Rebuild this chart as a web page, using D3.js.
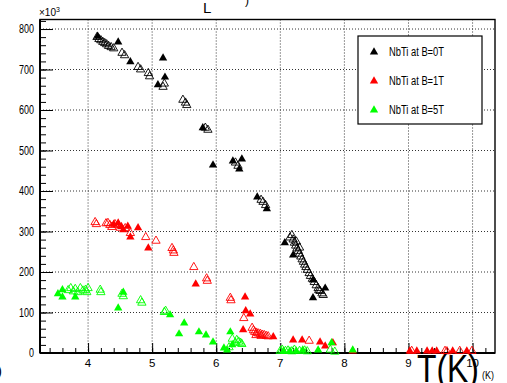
<!DOCTYPE html>
<html>
<head>
<meta charset="utf-8">
<script src="https://cdn.jsdelivr.net/npm/d3@7"></script>
<style>
  body { margin: 0; background: #fff; }
  text { font-family: "Liberation Sans", Arial, sans-serif; }
</style>
</head>
<body>
<div id="chart-container"></div>
<script>
// NbTi at B=0T, filled / open markers  [T (K), value x1e3]
const blackFilled = [[4.15,782],[4.47,768],[4.66,719],[5.17,728],[5.2,681],[5.09,662],[5.79,556],[5.95,464],
  [6.26,474],[6.40,479],[6.36,454],[6.64,385],[6.79,356],[7.07,272],[7.2,242],[7.51,180],[7.51,136],[7.70,160]];
const blackOpen = [[4.14,780],[4.17,775],[4.2,772],[4.23,768],[4.26,765],[4.29,762],[4.32,758],[4.36,755],[4.40,752],
  [4.53,741],[4.57,735],[4.78,706],[4.82,700],[4.94,691],[4.96,683],[5.17,657],[5.19,665],[5.48,625],[5.52,618],
  [5.54,612],[5.87,551],[5.83,556],[6.34,462],[6.30,470],[6.73,373],[6.70,378],[6.77,365],
  [7.15,285],[7.18,291],[7.2,280],[7.22,272],[7.24,265],[7.26,258],[7.28,252],[7.3,245],[7.32,238],[7.34,231],
  [7.36,225],[7.38,218],[7.4,212],[7.42,205],[7.45,197],[7.47,190],[7.5,183],[7.53,175],[7.56,167],[7.59,160],
  [7.62,153],[7.65,147],[7.67,143],[7.6,155],[7.3,260],[7.25,275]];

// NbTi at B=1T
const redFilled = [[4.4,318],[4.47,321],[4.52,312],[4.55,304],[4.62,313],[4.66,286],[4.78,309],[4.94,259],[5.68,170],
  [6.45,138],[6.46,104],[6.53,96],[6.42,57],[6.89,40],[7.2,32],[7.34,32],[7.62,27],[7.70,17],[7.82,25],[8.13,5],
  [9.02,5],[9.13,5],[9.29,5],[9.37,5],[9.44,5],[9.69,5],[9.91,5]];
const redOpen = [[4.11,323],[4.13,318],[4.28,320],[4.31,321],[4.34,316],[4.37,311],[4.42,318],[4.47,316],[4.5,309],
  [4.58,308],[4.66,296],[4.9,286],[5.06,277],[5.31,259],[5.33,253],[5.34,247],[5.65,212],[5.86,178],[5.85,184],
  [6.22,136],[6.23,130],[6.43,86],[6.56,62],[6.58,56],[6.6,52],[6.63,50],[6.66,48],[6.69,47],[6.72,45],[6.75,44],
  [6.78,42],[6.81,41],[6.62,44],[6.7,42],[7.45,30],[9.05,5],[9.57,5],[9.6,4],[9.80,5],[9.99,5]];

// NbTi at B=5T
const greenFilled = [[3.6,156],[3.6,138],[3.53,146],[3.8,138],[4.47,111],[4.55,150],[5.28,94],[5.42,47],[5.5,74],
  [5.73,52],[5.84,44],[5.95,27],[6.12,12],[6.17,7],[6.22,52],[6.25,20],[7.05,5],[7.15,5],[7.25,5],[7.35,7],
  [7.59,7],[7.8,25],[8.13,7]];
const greenOpen = [[3.69,155],[3.73,160],[3.77,152],[3.8,158],[3.84,150],[3.88,160],[3.92,154],[3.96,156],[4.0,160],
  [3.98,150],[4.19,156],[4.2,150],[4.53,146],[4.55,140],[4.84,124],[4.82,130],[5.19,101],[5.21,104],[6.2,14],
  [6.25,35],[6.3,25],[6.32,32],[6.35,28],[6.38,25],[6.40,22],[7.0,5],[7.03,8],[7.08,5],[7.12,6],[7.18,4],
  [7.22,8],[7.3,5],[7.38,6],[7.42,4],[7.78,8],[7.85,3]];

const seriesNames = ["NbTi at B=0T", "NbTi at B=1T", "NbTi at B=5T"];
const seriesColors = ["#000000", "#ff0000", "#00ff00"];
const xTicks = [4, 5, 6, 7, 8, 9, 10];
const yTicks = [0, 100, 200, 300, 400, 500, 600, 700, 800];

const width = 507, height = 383;
const frame = { left: 40, right: 495, top: 19.5, bottom: 353 };

const svg = d3.select("#chart-container").append("svg")
  .attr("width", width)
  .attr("height", height);

const x = d3.scaleLinear().domain([3.25, 10.35]).range([frame.left, frame.right]);
const y = d3.scaleLinear().domain([0, 823.5]).range([frame.bottom, frame.top]);

// grid
const grid = svg.append("g")
  .attr("stroke", "#333")
  .attr("stroke-width", 1)
  .attr("stroke-dasharray", "1,2");
grid.selectAll(".gx").data(xTicks).join("line")
  .attr("x1", d => x(d)).attr("x2", d => x(d))
  .attr("y1", frame.top).attr("y2", frame.bottom);
grid.selectAll(".gy").data(yTicks.slice(1)).join("line")
  .attr("x1", frame.left).attr("x2", frame.right)
  .attr("y1", d => y(d)).attr("y2", d => y(d));

// frame
svg.append("rect")
  .attr("x", frame.left).attr("y", frame.top)
  .attr("width", frame.right - frame.left).attr("height", frame.bottom - frame.top)
  .attr("fill", "none").attr("stroke", "#000").attr("stroke-width", 1.4);

// x axis (ticks point up into the frame)
svg.append("g")
  .attr("transform", `translate(0, ${frame.bottom})`)
  .call(d3.axisTop(x).tickValues(d3.range(3.4, 10.35, 0.2)).tickSize(5).tickFormat(""))
  .call(g => g.select(".domain").remove());
svg.append("g")
  .attr("transform", `translate(0, ${frame.bottom})`)
  .call(d3.axisTop(x).tickValues(xTicks).tickSize(10).tickFormat(""))
  .call(g => g.select(".domain").remove());
svg.selectAll(".xlab").data(xTicks).join("text")
  .attr("x", d => x(d)).attr("y", 367)
  .attr("text-anchor", "middle")
  .attr("font-size", 11.5)
  .text(d => d);

// y axis (ticks point right)
svg.append("g")
  .attr("transform", `translate(${frame.left}, 0)`)
  .call(d3.axisRight(y).tickValues(d3.range(20, 821, 20)).tickSize(6).tickFormat(""))
  .call(g => g.select(".domain").remove());
svg.append("g")
  .attr("transform", `translate(${frame.left}, 0)`)
  .call(d3.axisRight(y).tickValues(yTicks).tickSize(13).tickFormat(""))
  .call(g => g.select(".domain").remove());
svg.selectAll(".ylab").data(yTicks).join("text")
  .attr("x", 34).attr("y", d => y(d) + 4)
  .attr("text-anchor", "end")
  .attr("font-size", 12)
  .attr("textLength", d => String(d).length * 5)
  .attr("lengthAdjust", "spacingAndGlyphs")
  .text(d => d);

// axis lines
svg.append("line")
  .attr("x1", frame.left).attr("x2", frame.left)
  .attr("y1", frame.top).attr("y2", frame.bottom)
  .attr("stroke", "#000").attr("stroke-width", 2);
svg.append("line")
  .attr("x1", frame.left).attr("x2", frame.right)
  .attr("y1", frame.bottom).attr("y2", frame.bottom)
  .attr("stroke", "#000").attr("stroke-width", 2);

// x1e3 exponent
const expo = svg.append("text").attr("x", 39).attr("y", 16).attr("font-size", 10);
expo.append("tspan").text("\u00d710");
expo.append("tspan").attr("dy", -4).attr("font-size", 7).text("3");

// markers
const tri = d3.symbol().type(d3.symbolTriangle).size(30);
const groups = [
  [blackOpen, blackFilled, seriesColors[0]],
  [redOpen, redFilled, seriesColors[1]],
  [greenOpen, greenFilled, seriesColors[2]]
];
groups.forEach(([open, filled, col]) => {
  const g = svg.append("g");
  g.selectAll(".o").data(open).join("path")
    .attr("d", tri)
    .attr("transform", d => `translate(${x(d[0])}, ${y(d[1])})`)
    .attr("fill", "none").attr("stroke", col).attr("stroke-width", 0.9);
  g.selectAll(".f").data(filled).join("path")
    .attr("d", tri)
    .attr("transform", d => `translate(${x(d[0])}, ${y(d[1])})`)
    .attr("fill", col);
});

// legend
const legend = svg.append("g");
legend.append("rect")
  .attr("x", 358).attr("y", 36).attr("width", 124).attr("height", 88)
  .attr("fill", "#fff").attr("stroke", "#000").attr("stroke-width", 1.2);
seriesNames.forEach((name, i) => {
  const ly = 52 + i * 29;
  legend.append("path")
    .attr("d", tri)
    .attr("transform", `translate(374, ${ly})`)
    .attr("fill", seriesColors[i]);
  legend.append("text")
    .attr("x", 389).attr("y", ly + 4)
    .attr("font-size", 12)
    .attr("textLength", 55)
    .attr("lengthAdjust", "spacingAndGlyphs")
    .text(name);
});

// axis titles
svg.append("text").attr("x", 417).attr("y", 382)
  .attr("font-size", 38)
  .attr("textLength", 62)
  .attr("lengthAdjust", "spacingAndGlyphs")
  .text("T(K)");
svg.append("text").attr("x", 482).attr("y", 379).attr("font-size", 10)
  .attr("textLength", 12)
  .attr("lengthAdjust", "spacingAndGlyphs")
  .text("(K)");

// clipped title pieces at the top and y title at the left edge
svg.append("text").attr("x", 203).attr("y", 13).attr("font-size", 15).text("L");
svg.append("text").attr("x", 245).attr("y", 4).attr("font-size", 12).text(")");
svg.append("text").attr("x", -3).attr("y", 376).attr("font-size", 15).text(")");
</script>
</body>
</html>
